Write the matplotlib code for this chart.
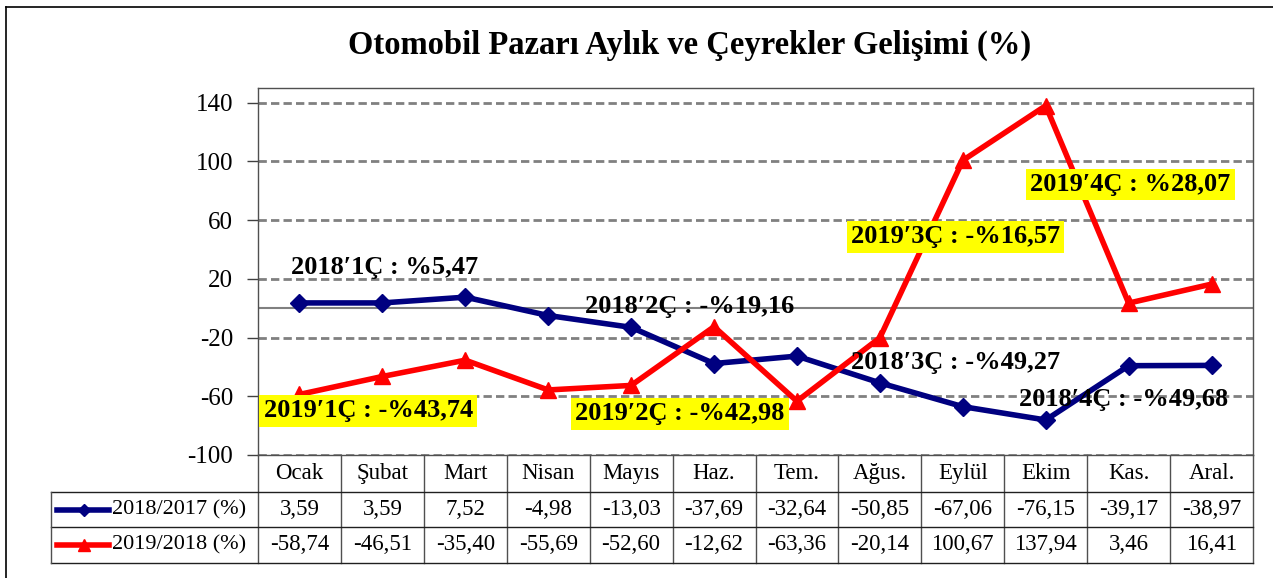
import numpy as np
import matplotlib
matplotlib.use('Agg')
import matplotlib.pyplot as plt
from matplotlib.lines import Line2D

plt.rcParams['font.family'] = ['Liberation Serif', 'DejaVu Serif']
plt.rcParams['axes.unicode_minus'] = False

months = ['Ocak', 'Şubat', 'Mart', 'Nisan', 'Mayıs', 'Haz.', 'Tem.', 'Ağus.',
          'Eylül', 'Ekim', 'Kas.', 'Aral.']
s2018 = [3.59, 3.59, 7.52, -4.98, -13.03, -37.69, -32.64, -50.85, -67.06, -76.15, -39.17, -38.97]
s2019 = [-58.74, -46.51, -35.40, -55.69, -52.60, -12.62, -63.36, -20.14, 100.67, 137.94, 3.46, 16.41]
series_names = ['2018/2017 (%)', '2019/2018 (%)']

# quarter notes: (text, x, y, highlighted)
notes = ["2018\u20321Ç : %5,47", "2019\u20321Ç : -%43,74",
         "2018\u20322Ç : -%19,16", "2019\u20322Ç : -%42,98",
         "2018\u20323Ç : -%49,27", "2018\u20324Ç : -%49,68",
         "2019\u20323Ç : -%16,57", "2019\u20324Ç : %28,07"]
note_x = [1.03, 0.83, 4.71, 4.59, 7.91, 9.94, 7.91, 10.02]
note_y = [27.5, -70, 0.9, -72, -37.3, -62.5, 48.6, 84.1]
note_hl = [False, True, False, True, False, False, True, True]

W, H = 1273, 578
fig = plt.figure(figsize=(W / 100, H / 100), dpi=100)
ax = fig.add_axes([258 / W, 1 - 455 / H, (1253 - 258) / W, (455 - 88) / H])

x = np.arange(len(months))
blue = '#000080'
red = '#FF0000'
ax.plot(x, s2018, color=blue, lw=4, marker='D', ms=9, zorder=4)
ax.plot(x, s2019, color=red, lw=4, marker='^', ms=12, zorder=4)

ax.set_xlim(-0.5, 11.5)
ax.set_ylim(-100, 150)
ax.set_yticks(np.arange(-100, 141, 40))
ax.set_xticks([])
for v in np.arange(-100, 141, 40):
    ax.axhline(v, color='#808080', lw=2, ls=(0, (3, 1.5)), zorder=1)
ax.axhline(0, color='#808080', lw=1.5, zorder=1)
ax.tick_params(axis='y', labelsize=18, length=8, width=1, color='#404040', pad=10)
for sp in ax.spines.values():
    sp.set_color('#505050')
    sp.set_linewidth(1)

for t, nx, ny, hl in zip(notes, note_x, note_y, note_hl):
    kw = {}
    if hl:
        kw['bbox'] = dict(facecolor='#FFFF00', edgecolor='none', pad=3)
    ax.text(nx, ny, t, ha='center', va='center', fontsize=19, fontweight='bold',
            zorder=6, **kw)

# data table below the plot
tr = ax.get_xaxis_transform()
h_hdr = -37 / 367
h_r1 = -72 / 367
h_r2 = -108 / 367
lc = '#202020'
def seg(x0, x1, y0, y1, c=lc, lw=1):
    ax.add_line(Line2D([x0, x1], [y0, y1], transform=tr, color=c, lw=lw, clip_on=False))

for b in np.arange(-0.5, 12, 1):
    seg(b, b, 0, h_r2, c='#505050')
seg(-3.0, 11.5, h_r2, h_r2)
seg(-3.0, 11.5, h_hdr, h_hdr)
seg(-3.0, 11.5, h_r1, h_r1)
seg(-3.0, -3.0, h_hdr, h_r2, c='#505050')

for i, m in enumerate(months):
    ax.text(i, h_hdr / 2, m, transform=tr, ha='center', va='center', fontsize=16.5)
rows = [s2018, s2019]
row_y = [(h_hdr + h_r1) / 2, (h_r1 + h_r2) / 2]
for vals, ry in zip(rows, row_y):
    for i, v in enumerate(vals):
        ax.text(i, ry, ('%.2f' % v).replace('.', ','), transform=tr, ha='center',
                va='center', fontsize=16.5)

key_style = [(blue, 'D', 6), (red, '^', 8)]
for (c, mk, ms), name, ry in zip(key_style, series_names, row_y):
    ax.add_line(Line2D([-2.93, -2.3], [ry, ry], transform=tr, color=c, lw=4,
                       clip_on=False))
    ax.add_line(Line2D([-2.6], [ry], transform=tr, color=c, marker=mk, ms=ms,
                       clip_on=False))
    ax.text(-2.26, ry, name, transform=tr, ha='left', va='center', fontsize=16)

fig.text(690 / W, 1 - 45 / H, 'Otomobil Pazarı Aylık ve Çeyrekler Gelişimi (%)',
         ha='center', va='center', fontsize=23.5, fontweight='bold')

# outer frame (runs off the right and bottom edges)
fig.add_artist(Line2D([6 / W, 6 / W], [0, 1 - 7 / H], color='black', lw=1.2))
fig.add_artist(Line2D([6 / W, 1], [1 - 7 / H, 1 - 7 / H], color='black', lw=1.2))

fig.savefig('out.png', dpi=100)
